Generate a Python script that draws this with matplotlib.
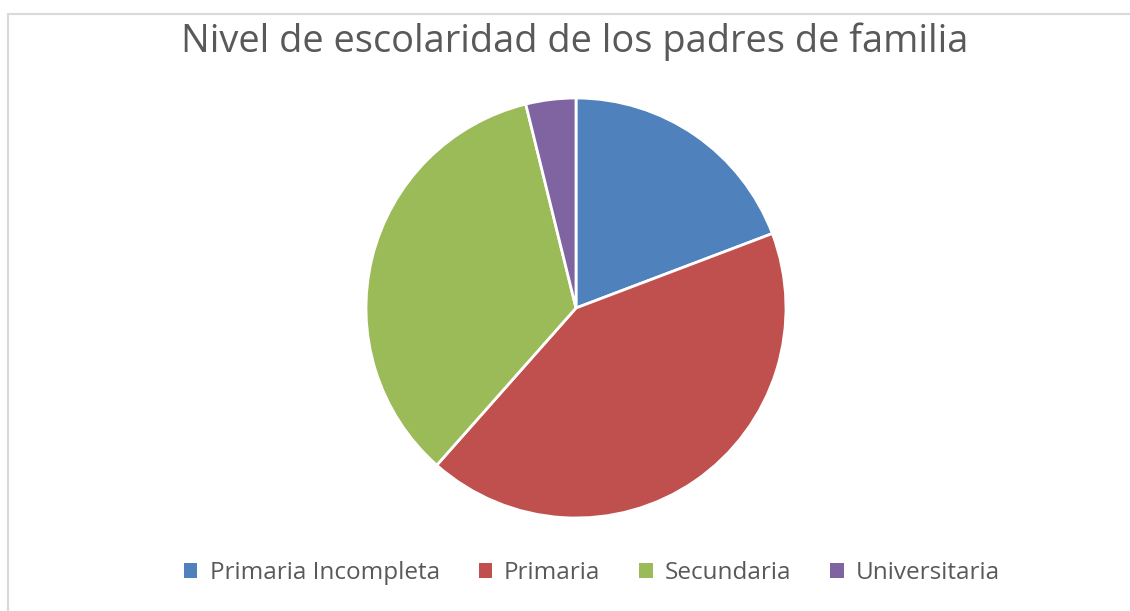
import matplotlib.pyplot as plt
from matplotlib.patches import Rectangle

# Data
categories = ["Primaria Incompleta", "Primaria", "Secundaria", "Universitaria"]
counts = [5, 11, 9, 1]
colors = ["#4F81BD", "#C0504D", "#9BBB59", "#8064A2"]

plt.rcParams["font.family"] = ["Open Sans", "DejaVu Sans"]

W, H = 1130, 611
fig = plt.figure(figsize=(W / 100, H / 100), dpi=100)

# chart border (light grey frame, runs off the right and bottom edges)
fig.patches.append(Rectangle((8 / W, -0.1), 1.2, (H - 14) / H + 0.1,
                             transform=fig.transFigure, fill=False,
                             edgecolor="#D9D9D9", linewidth=1.5))

# pie axes, centre (576, 308), radius 210 px
cx, cy, r = 576, 308, 210
ax = fig.add_axes([(cx - r) / W, (H - cy - r) / H, 2 * r / W, 2 * r / H])
ax.pie(counts, colors=colors, startangle=90, counterclock=False,
       wedgeprops=dict(edgecolor="white", linewidth=2))
ax.set_xlim(-1, 1)
ax.set_ylim(-1, 1)
ax.set_aspect("equal")
ax.axis("off")

fig.text(575 / W, 1 - 42 / H, "Nivel de escolaridad de los padres de familia",
         ha="center", va="center", fontsize=27.4, color="#595959")

handles = [Rectangle((0, 0), 1, 1, facecolor=c) for c in colors]
fig.legend(handles, categories, loc="center", bbox_to_anchor=(592 / W, 1 - 573 / H),
           ncol=4, frameon=False, fontsize=17.5, labelcolor="#595959",
           handlelength=0.55, handleheight=0.55, handletextpad=0.5, columnspacing=1.6)

fig.savefig("out.png", dpi=100)
